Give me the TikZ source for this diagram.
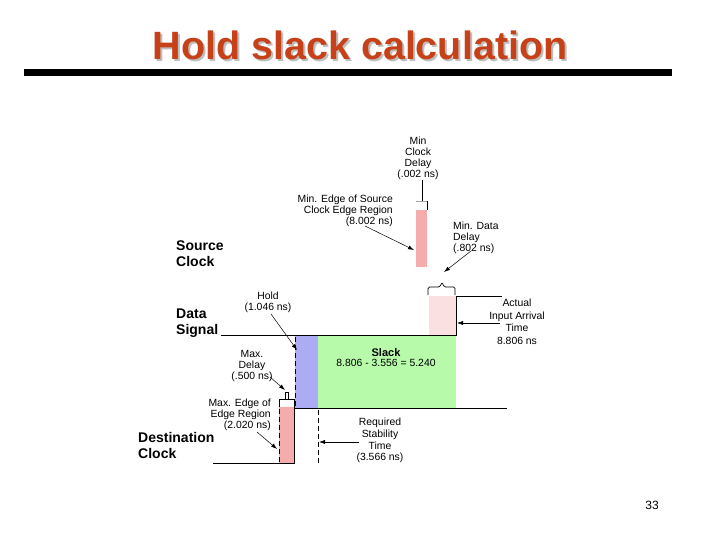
\documentclass[tikz,border=0pt]{standalone}
\usepackage{fontspec}
\setmainfont{Liberation Sans}
\usetikzlibrary{arrows.meta}
\definecolor{titlered}{RGB}{198,64,24}
\definecolor{titleshadow}{RGB}{190,190,190}
\definecolor{clkpink}{RGB}{245,172,172}
\definecolor{datapink}{RGB}{250,224,224}
\definecolor{holdblue}{RGB}{172,172,245}
\definecolor{slackgreen}{RGB}{182,250,170}
\begin{document}
\begin{tikzpicture}[x=1pt,y=-1pt,
  lbl/.style={font=\fontsize{10.4}{11}\selectfont, inner sep=0pt, align=center},
  big/.style={font=\fontsize{14}{16.5}\selectfont\bfseries, inner sep=0pt, align=left, anchor=west},
  arr/.style={-{Latex[length=6pt,width=4pt]}, line width=0.5pt},
  wire/.style={line width=0.7pt},
  dashline/.style={line width=0.7pt, dash pattern=on 5pt off 3pt}]
\useasboundingbox (0,0) rectangle (720,540);

% title
\node[anchor=base, inner sep=0pt, text=titleshadow, font=\fontsize{39.5}{40}\selectfont\bfseries] (titlesh) at (362,62) {Hold slack calculation};
\node[anchor=base, inner sep=0pt, text=titlered, font=\fontsize{39.5}{40}\selectfont\bfseries] (title) at (360,60) {Hold slack calculation};
\fill (24,69) rectangle (672,76);

% colored regions
\fill[clkpink] (416,210) rectangle (427,267);
\fill[datapink] (429,296) rectangle (456,335);
\fill[holdblue] (295,335) rectangle (318,408);
\fill[slackgreen] (318,335) rectangle (456,408);
\fill[clkpink] (279,407) rectangle (294,463);

% source clock marks
\draw[gray!70, line width=0.5pt] (416,201) -- (427,201);
\draw[wire] (427,201) -- (427,210);
\draw[wire] (422,180) -- (422,201);

% brace above data arrival
\draw[wire, rounded corners=1.5pt] (428,295) -- (428,287) -- (440,287) -- (442,282) -- (444,287) -- (455,287) -- (455,295);

% data signal
\draw[wire] (221,335) -- (456,335) -- (456,296) -- (502,296);
\draw[wire] (295,408) -- (507,408);
\draw[dashline] (295,337) -- (295,407);
\draw[dashline] (318,410) -- (318,463);

% destination clock
\draw[wire] (213,463) -- (294,463) -- (294,399) -- (279,399) -- (279,407);
\draw[dashline] (279,409) -- (279,462);
\draw[wire] (285,399) -- (285,392) -- (288,392) -- (288,399);

% big labels
\node[big] (srcclk) at (176,253.5) {Source\\Clock};
\node[big] (datasig) at (176,323) {Data\\Signal};
\node[big] (dstclk) at (138,445.5) {Destination\\Clock};

% small labels
\node[lbl] (minclk) at (418,158.5) {Min\\Clock\\Delay\\(.002 ns)};
\node[lbl, align=right, anchor=east] (minedge) at (393,210.5) {Min. Edge of Source\\Clock Edge Region\\(8.002 ns)};
\node[lbl, align=left, anchor=west] (mindata) at (453,237.5) {Min. Data\\Delay\\(.802 ns)};
\node[lbl] (hold) at (268,302.5) {Hold\\(1.046 ns)};
\node[lbl] (maxdel) at (252,365.5) {Max.\\Delay\\(.500 ns)};
\node[lbl, align=right, anchor=east] (maxedge) at (271,414.5) {Max. Edge of\\Edge Region\\(2.020 ns)};
\node[lbl, font=\fontsize{10.4}{12.5}\selectfont] (actual) at (517,322) {Actual\\Input Arrival\\Time\\8.806 ns};
\node[lbl, font=\fontsize{10.4}{11.7}\selectfont] (req) at (380,440.5) {Required\\Stability\\Time\\(3.566 ns)};
\node[lbl, font=\fontsize{10.4}{10}\selectfont] (slack) at (386,358) {{\fontsize{11}{10}\selectfont\textbf{Slack}}\\8.806 - 3.556 = 5.240};
\node[anchor=base, inner sep=0pt, font=\fontsize{12}{12}\selectfont] (pagenum) at (652,509) {33};

% arrows
\coordinate (a1s) at (365,226); \coordinate (a1e) at (414,250);
\coordinate (a2s) at (471,251); \coordinate (a2e) at (444,272);
\coordinate (a3s) at (271,314); \coordinate (a3e) at (297,350);
\coordinate (a4s) at (270,377); \coordinate (a4e) at (285,390);
\coordinate (a5s) at (257,432); \coordinate (a5e) at (277,449);
\coordinate (a6s) at (500,323); \coordinate (a6e) at (457,323);
\coordinate (a7s) at (359,442); \coordinate (a7e) at (319,442);
\draw[arr] (a1s) -- (a1e);
\draw[arr] (a2s) -- (a2e);
\draw[arr] (a3s) -- (a3e);
\draw[arr] (a4s) -- (a4e);
\draw[arr] (a5s) -- (a5e);
\draw[arr] (a6s) -- (a6e);
\draw[arr] (a7s) -- (a7e);
\end{tikzpicture}
\end{document}
